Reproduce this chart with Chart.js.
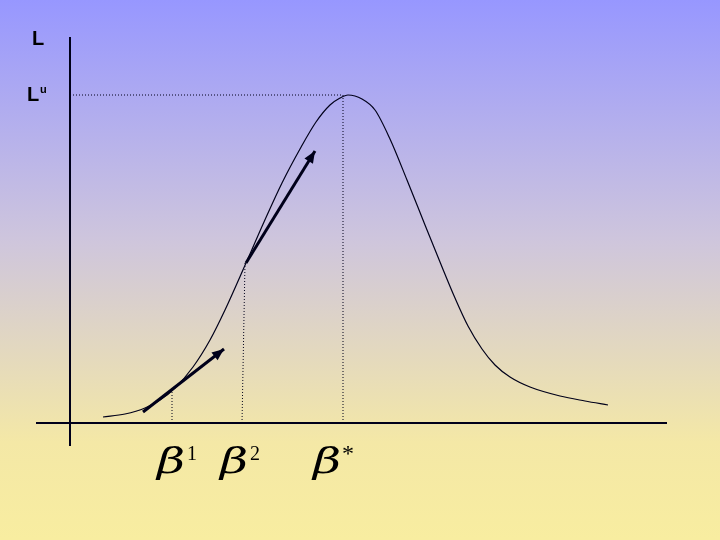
<!DOCTYPE html>
<html>
<head>
<meta charset="utf-8">
<script src="https://cdn.jsdelivr.net/npm/chart.js"></script>
<style>
  html, body { margin: 0; padding: 0; background: #f8eda0; }
  canvas { display: block; }
</style>
</head>
<body>
<canvas id="myChart" width="720" height="540"></canvas>
<script>
// likelihood curve L(beta)
const curveX = [33, 55, 75, 90, 105, 123, 140, 155, 176, 194, 212, 230, 246, 260, 270, 278, 292, 305, 320, 337, 355, 370, 385, 398, 412, 425, 440, 460, 490, 515, 538];
const curveY = [6, 9, 15, 23, 35, 56, 83, 113, 160, 201, 240, 274, 301, 318, 325, 328, 324, 313, 284, 243, 198, 161, 125, 97, 74, 58, 46, 36, 27, 22, 18];

const betaStar = 273;
const Lu = 328;
const beta1 = [102, 31];   // x, curve height
const beta2 = [176, 160];

// gradient arrows (start x, start y, end x, end y)
const arrow1 = [73, 11, 154, 74];
const arrow2 = [176, 160, 245, 272];

// beta tick labels: position on the x axis and superscript
const betaLabelX = [87, 150, 243];
const betaLabelSup = ['1', '2', '*'];

const xAxisRange = [-34, 597];
const yAxisRange = [-23, 386];

const lineColor = '#00001a';

const ctx = document.getElementById('myChart');

const bgPlugin = {
  id: 'bg',
  beforeDraw(chart) {
    const c = chart.ctx;
    const g = c.createLinearGradient(0, 0, 0, chart.height);
    g.addColorStop(0, '#9797ff');
    g.addColorStop(0.45, '#cfc6dc');
    g.addColorStop(0.82, '#f4e8a6');
    g.addColorStop(1, '#f8eda0');
    c.save();
    c.fillStyle = g;
    c.fillRect(0, 0, chart.width, chart.height);
    c.restore();
  }
};

const arrowPlugin = {
  id: 'arrows',
  afterDatasetsDraw(chart) {
    const c = chart.ctx;
    const xs = chart.scales.x, ys = chart.scales.y;
    [arrow1, arrow2].forEach(a => {
      const x0 = xs.getPixelForValue(a[0]), y0 = ys.getPixelForValue(a[1]);
      const x1 = xs.getPixelForValue(a[2]), y1 = ys.getPixelForValue(a[3]);
      const ang = Math.atan2(y1 - y0, x1 - x0);
      const len = 12, wid = 5;
      c.save();
      c.fillStyle = lineColor;
      c.beginPath();
      c.moveTo(x1, y1);
      c.lineTo(x1 - len * Math.cos(ang) + wid * Math.sin(ang), y1 - len * Math.sin(ang) - wid * Math.cos(ang));
      c.lineTo(x1 - len * Math.cos(ang) - wid * Math.sin(ang), y1 - len * Math.sin(ang) + wid * Math.cos(ang));
      c.closePath();
      c.fill();
      c.restore();
    });
  }
};

const labelPlugin = {
  id: 'labels',
  afterDraw(chart) {
    const c = chart.ctx;
    const xs = chart.scales.x, ys = chart.scales.y;
    const px = v => xs.getPixelForValue(v), py = v => ys.getPixelForValue(v);
    c.save();
    c.fillStyle = '#000';
    c.textBaseline = 'alphabetic';
    c.textAlign = 'left';
    c.font = 'bold 20px "Liberation Sans", Arial, sans-serif';
    c.fillText('L', px(-38), py(378));
    c.fillText('L', px(-43), py(322));
    c.font = 'bold 11px "Liberation Sans", Arial, sans-serif';
    c.fillText('u', px(-30), py(330));

    const stretch = 1.35;
    betaLabelX.forEach((bx, i) => {
      c.font = 'italic 36px "DejaVu Serif", serif';
      const w = c.measureText('\u03B2').width * stretch;
      c.save();
      c.translate(px(bx), py(-50));
      c.scale(stretch, 1);
      c.fillText('\u03B2', 0, 0);
      c.restore();
      const sup = betaLabelSup[i];
      if (sup === '*') {
        c.font = '24px "Liberation Serif", serif';
        c.fillText('*', px(bx) + w + 1, py(-38));
      } else {
        c.font = '20px "Liberation Serif", serif';
        c.fillText(sup, px(bx) + w + 2, py(-37));
      }
    });
    c.restore();
  }
};

const pts = (xs, ys) => xs.map((x, i) => ({ x: x, y: ys[i] }));
const seg = (x0, y0, x1, y1) => [{ x: x0, y: y0 }, { x: x1, y: y1 }];
const solid = (data, w) => ({ data, showLine: true, borderColor: lineColor, borderWidth: w, pointRadius: 0 });
const dotted = data => ({ data, showLine: true, borderColor: lineColor, borderWidth: 1, borderDash: [1, 2], pointRadius: 0 });

new Chart(ctx, {
  type: 'scatter',
  data: {
    datasets: [
      {
        data: pts(curveX, curveY),
        showLine: true,
        borderColor: lineColor,
        borderWidth: 1.2,
        pointRadius: 0,
        cubicInterpolationMode: 'monotone'
      },
      solid(seg(xAxisRange[0], 0, xAxisRange[1], 0), 2),
      solid(seg(0, yAxisRange[0], 0, yAxisRange[1]), 2),
      dotted(seg(0, Lu, betaStar, Lu)),
      dotted(seg(betaStar, Lu, betaStar, 0)),
      dotted(seg(beta1[0], beta1[1], beta1[0], 0)),
      dotted(seg(beta2[0] - 1, beta2[1], beta2[0] - 4, 0)),
      solid(seg(arrow1[0], arrow1[1], arrow1[2], arrow1[3]), 3),
      solid(seg(arrow2[0], arrow2[1], arrow2[2], arrow2[3]), 3)
    ]
  },
  options: {
    responsive: false,
    animation: false,
    layout: { padding: 0 },
    plugins: {
      legend: { display: false },
      tooltip: { enabled: false }
    },
    scales: {
      x: { type: 'linear', min: -70, max: 650, display: false },
      y: { type: 'linear', min: -117, max: 423, display: false }
    }
  },
  plugins: [bgPlugin, arrowPlugin, labelPlugin]
});
</script>
</body>
</html>
